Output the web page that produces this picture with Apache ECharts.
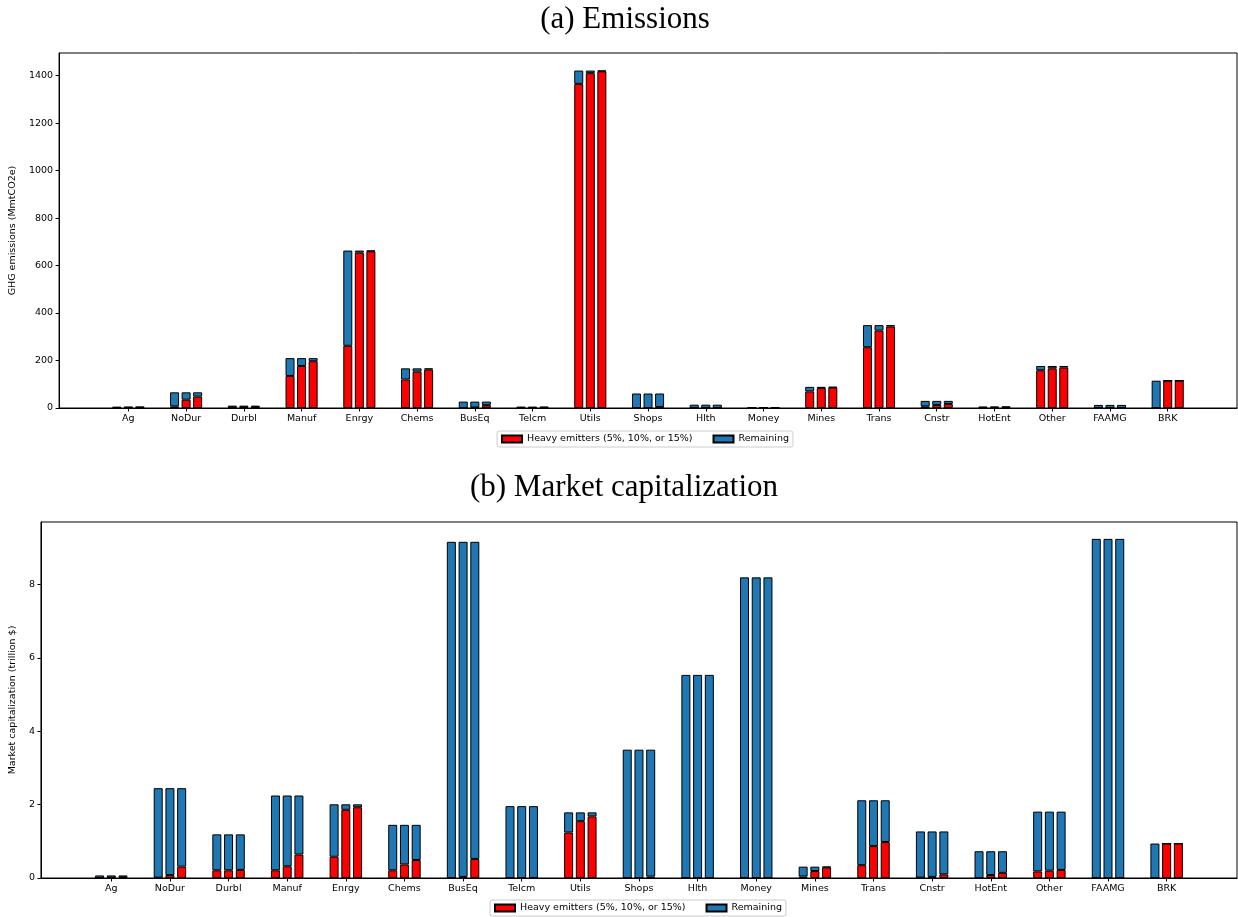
<!DOCTYPE html>
<html><head><meta charset="utf-8">
<script src="https://cdn.jsdelivr.net/npm/echarts@6/dist/echarts.min.js"></script>
<style>html,body{margin:0;padding:0;background:#fff}#c{width:1238px;height:917px}</style>
</head><body><div id="c"></div>
<script>
// ---------- data ----------
const categories = ['Ag','NoDur','Durbl','Manuf','Enrgy','Chems','BusEq','Telcm','Utils','Shops','Hlth','Money','Mines','Trans','Cnstr','HotEnt','Other','FAAMG','BRK'];

// (a) GHG emissions, MmtCO2e: totals per industry and heavy-emitter parts (5%, 10%, 15% cutoffs)
const emisTotal   = [5, 66, 10, 210, 663, 167, 27, 6, 1421, 61, 14, 4, 89, 349, 30, 6, 177, 13, 115];
const emisHeavy5  = [1, 7, 2, 135, 262, 120, 0, 0, 1365, 0, 0, 0, 70, 256, 7, 1, 159, 0, 0];
const emisHeavy10 = [2, 35, 3, 177, 654, 153, 2, 0, 1410, 0, 0, 0, 84, 326, 13, 2, 167, 0, 115];
const emisHeavy15 = [3, 48, 4, 197, 660, 162, 12, 1, 1418, 4, 0, 0, 86, 343, 17, 3, 170, 0, 115];

// (b) Market capitalization, trillion $
const capTotal   = [0.07, 2.45, 1.19, 2.25, 2.01, 1.45, 9.17, 1.96, 1.79, 3.50, 5.54, 8.20, 0.31, 2.12, 1.27, 0.73, 1.81, 9.25, 0.94];
const capHeavy5  = [0, 0.01, 0.21, 0.21, 0.58, 0.21, 0, 0, 1.24, 0, 0, 0, 0.04, 0.35, 0.01, 0, 0.18, 0, 0];
const capHeavy10 = [0.01, 0.08, 0.21, 0.32, 1.86, 0.37, 0.03, 0, 1.55, 0, 0, 0, 0.19, 0.87, 0.03, 0.08, 0.20, 0, 0.94];
const capHeavy15 = [0.02, 0.31, 0.22, 0.64, 1.93, 0.49, 0.52, 0, 1.68, 0.04, 0, 0, 0.29, 0.98, 0.10, 0.14, 0.22, 0, 0.94];

const emisTicks = [0, 200, 400, 600, 800, 1000, 1200, 1400];
const capTicks  = [0, 2, 4, 6, 8];

const HEAVY = 'Heavy emitters (5%, 10%, or 15%)';
const REM = 'Remaining';

// ---------- layout / style ----------
const barOffsets = [-0.2, 0, 0.2];
const RED = '#ff0000', BLUE = '#1f77b4';
const FS = 9.5;
const FONT = 'DejaVu Sans';
const catIdx = categories.map((c, i) => i);

function makeSeries(g, total, heavies) {
  const out = [];
  heavies.forEach((hv, k) => {
    const common = {
      type: 'bar', xAxisIndex: g, yAxisIndex: g, stack: 'g' + g + 'k' + k,
      encode: { x: 1, y: 0 },
      barWidth: 9, barGap: '-100%', animation: false, silent: true
    };
    // data rows: [value, x position]
    out.push(Object.assign({}, common, {
      name: HEAVY,
      itemStyle: { color: RED, borderColor: '#000', borderWidth: 1 },
      data: catIdx.map(i => [hv[i], i + barOffsets[k]])
    }));
    out.push(Object.assign({}, common, {
      name: REM,
      itemStyle: { color: BLUE, borderColor: '#000', borderWidth: 1 },
      data: catIdx.map(i => [+(total[i] - hv[i]).toFixed(4), i + barOffsets[k]])
    }));
  });
  return out;
}

function xAxisFor(g) {
  return {
    type: 'value', gridIndex: g, min: -1.2, max: 19.2,
    axisLine: { show: true, onZero: false, lineStyle: { color: '#000', width: 1 } },
    splitLine: { show: false },
    axisTick: { show: true, length: 3.5, customValues: catIdx, lineStyle: { color: '#000' } },
    axisLabel: { show: true, customValues: catIdx, margin: 6, color: '#000', fontSize: FS, fontFamily: FONT,
      formatter: v => categories[Math.round(v)] || '' }
  };
}
function yAxisFor(g, max, ticks, name, gap) {
  return {
    type: 'value', gridIndex: g, min: 0, max: max,
    name: name, nameLocation: 'middle', nameGap: gap,
    nameTextStyle: { color: '#000', fontSize: FS, fontFamily: FONT },
    axisLine: { show: true, onZero: false, lineStyle: { color: '#000', width: 1 } },
    splitLine: { show: false },
    axisTick: { show: true, length: 3.5, customValues: ticks, lineStyle: { color: '#000' } },
    axisLabel: { show: true, customValues: ticks, margin: 6, color: '#000', fontSize: FS, fontFamily: FONT,
      formatter: v => String(v) }
  };
}
function legendFor(top, left) {
  return {
    top: top, left: left, orient: 'horizontal',
    data: [HEAVY, REM],
    itemWidth: 20, itemHeight: 7, itemGap: 20,
    padding: [3, 4], borderColor: '#cccccc', borderWidth: 1, borderRadius: 2,
    backgroundColor: '#fff',
    icon: 'rect',
    textStyle: { color: '#000', fontSize: FS, fontFamily: FONT },
    selectedMode: false
  };
}

const chart = echarts.init(document.getElementById('c'), null, { renderer: 'canvas' });
chart.setOption({
  backgroundColor: '#fff',
  animation: false,
  grid: [
    { left: 58, top: 53, width: 1179, height: 355, show: true, borderColor: '#000', borderWidth: 1, backgroundColor: 'transparent' },
    { left: 39, top: 522, width: 1198, height: 356, show: true, borderColor: '#000', borderWidth: 1, backgroundColor: 'transparent' }
  ],
  xAxis: [xAxisFor(0), xAxisFor(1)],
  yAxis: [
    yAxisFor(0, 1495, emisTicks, 'GHG emissions (MmtCO2e)', 36),
    yAxisFor(1, 9.71, capTicks, 'Market capitalization (trillion $)', 16.5)
  ],
  legend: [legendFor(431, 497), legendFor(900, 490)],
  graphic: [
    { type: 'text', x: 625, y: 20, style: { text: '(a) Emissions', fill: '#000', font: '31px "Liberation Serif"', textAlign: 'center', textVerticalAlign: 'middle' } },
    { type: 'text', x: 624, y: 488, style: { text: '(b) Market capitalization', fill: '#000', font: '31px "Liberation Serif"', textAlign: 'center', textVerticalAlign: 'middle' } }
  ],
  series: makeSeries(0, emisTotal, [emisHeavy5, emisHeavy10, emisHeavy15])
    .concat(makeSeries(1, capTotal, [capHeavy5, capHeavy10, capHeavy15]))
});
</script>
</body></html>
